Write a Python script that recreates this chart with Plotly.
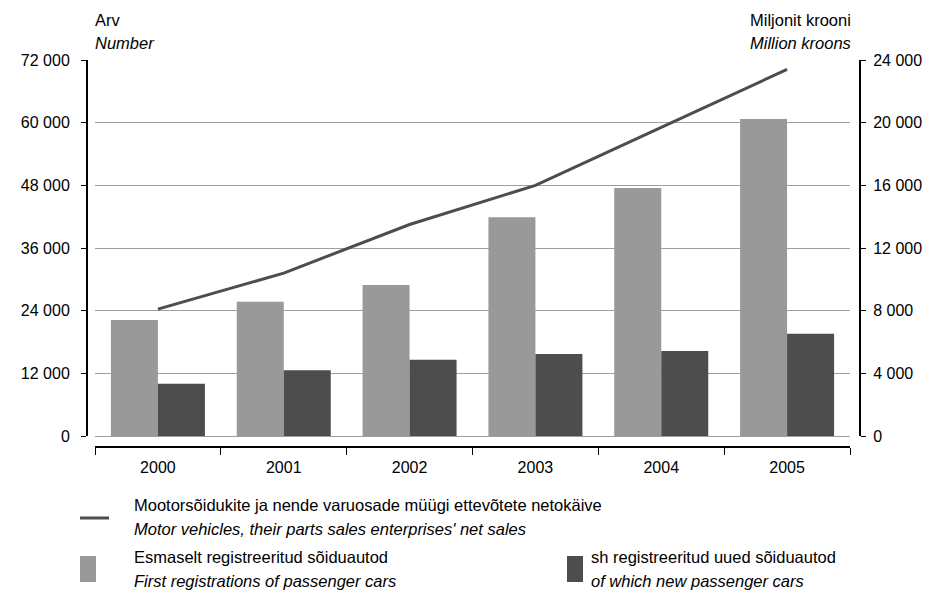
import plotly.graph_objects as go

years = ["2000", "2001", "2002", "2003", "2004", "2005"]
first_reg = [22200, 25700, 28900, 41900, 47500, 60700]
new_cars = [10000, 12600, 14600, 15700, 16300, 19600]
net_sales = [8100, 10400, 13500, 16000, 19700, 23400]

left_ticks = [0, 12000, 24000, 36000, 48000, 60000, 72000]
right_ticks = [0, 4000, 8000, 12000, 16000, 20000, 24000]

W, H = 938, 594
def px(x):
    return x / W
def py(y):
    return 1 - y / H

LIGHT = "#999999"
DARK = "#4d4d4d"
FONT = "Liberation Sans, Arial, sans-serif"
FS = 16
FS_LEG = 16.5

fig = go.Figure()
fig.add_trace(go.Bar(x=years, y=first_reg, marker_color=LIGHT, marker_line_width=0,
                     name="Esmaselt registreeritud sõiduautod", yaxis="y"))
fig.add_trace(go.Bar(x=years, y=new_cars, marker_color=DARK, marker_line_width=0,
                     name="sh registreeritud uued sõiduautod", yaxis="y"))
fig.add_trace(go.Scatter(x=years, y=net_sales, mode="lines", line=dict(color=DARK, width=3),
                         name="Mootorsõidukite ja nende varuosade müügi ettevõtete netokäive", yaxis="y2"))

fig.update_layout(
    width=W, height=H,
    margin=dict(l=0, r=0, t=0, b=0, autoexpand=False),
    paper_bgcolor="white", plot_bgcolor="white",
    font=dict(family=FONT, size=FS, color="black"),
    separators=", ",
    showlegend=False,
    barmode="group", bargap=0.253, bargroupgap=0,
    xaxis=dict(domain=[px(95), px(850)], anchor="free", position=py(447),
               type="category", showline=True, linecolor="black", linewidth=2,
               ticks="outside", tickson="boundaries", ticklen=7, tickcolor="black", tickwidth=1,
               showgrid=False, zeroline=False, ticklabelstandoff=6, automargin=False,
               tickfont=dict(size=FS)),
    yaxis=dict(domain=[py(436), py(60)], anchor="free", position=px(87),
               range=[0, 72000], tickvals=left_ticks, tickformat=",d",
               showline=True, linecolor="black", linewidth=2,
               ticks="outside", ticklen=5, tickcolor="black", tickwidth=1,
               showgrid=True, gridcolor="#a0a0a0", gridwidth=1,
               zeroline=True, zerolinecolor="#a0a0a0", zerolinewidth=1,
               ticklabelstandoff=8, automargin=False, tickfont=dict(size=FS)),
    yaxis2=dict(domain=[py(436), py(60)], anchor="free", position=px(860),
                overlaying="y", side="right",
                range=[0, 24000], tickvals=right_ticks, tickformat=",d",
                showline=True, linecolor="black", linewidth=2,
                ticks="outside", ticklen=5, tickcolor="black", tickwidth=1,
                showgrid=False, zeroline=False, ticklabelstandoff=4, automargin=False,
                tickfont=dict(size=FS)),
)

ann = []
def text(x, y, s, anchor="left", italic=False):
    ann.append(dict(x=px(x), y=py(y), xref="paper", yref="paper", text=(f"<i>{s}</i>" if italic else s),
                    showarrow=False, xanchor=anchor, yanchor="middle",
                    font=dict(family=FONT, size=FS_LEG, color="black")))

text(93, 20, "Arv")
text(93, 43, "Number", italic=True)
text(853, 20, "Miljonit krooni", anchor="right")
text(853, 43, "Million kroons", anchor="right", italic=True)

text(132, 505, "Mootorsõidukite ja nende varuosade müügi ettevõtete netokäive")
text(132, 529, "Motor vehicles, their parts sales enterprises' net sales", italic=True)
text(132, 557, "Esmaselt registreeritud sõiduautod")
text(132, 581, "First registrations of passenger cars", italic=True)
text(589, 557, "sh registreeritud uued sõiduautod")
text(589, 581, "of which new passenger cars", italic=True)
fig.update_layout(annotations=ann)

shapes = [
    dict(type="line", xref="paper", yref="paper", x0=px(80), x1=px(109), y0=py(518), y1=py(518),
         line=dict(color=DARK, width=3)),
    dict(type="rect", xref="paper", yref="paper", x0=px(80), x1=px(96), y0=py(582), y1=py(556),
         fillcolor=LIGHT, line=dict(width=0)),
    dict(type="rect", xref="paper", yref="paper", x0=px(567), x1=px(583), y0=py(582), y1=py(556),
         fillcolor=DARK, line=dict(width=0)),
]
fig.update_layout(shapes=shapes)

fig.write_html("out.html", config={"displayModeBar": False},
               post_script="document.body.style.margin='0';document.body.style.overflow='hidden';")
